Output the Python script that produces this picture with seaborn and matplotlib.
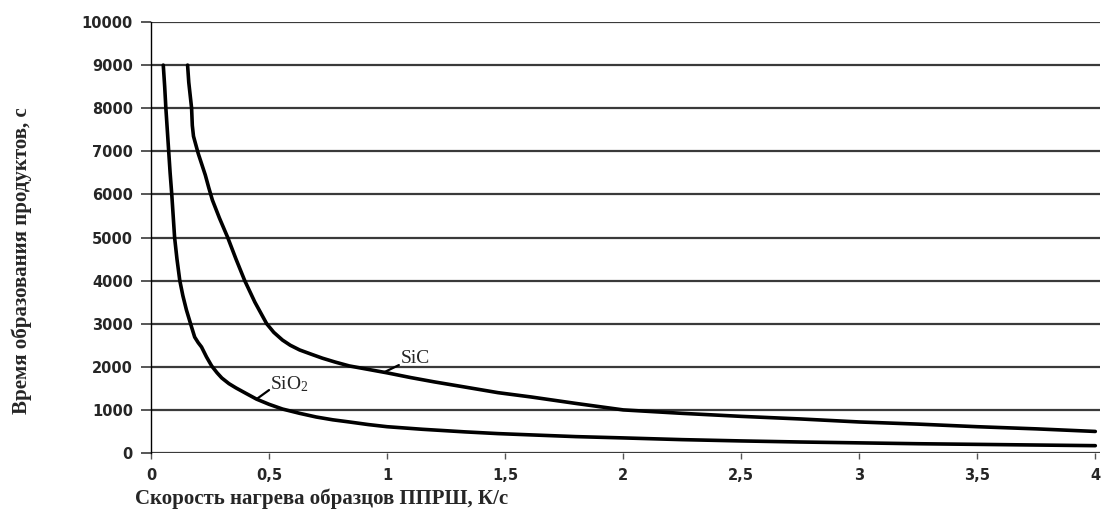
import numpy as np
import pandas as pd
import matplotlib
matplotlib.use("Agg")
import matplotlib.pyplot as plt
import seaborn as sns

# значения
sio2_x = [0.052, 0.058, 0.063, 0.069, 0.075, 0.081, 0.088, 0.10, 0.11, 0.122, 0.135,
          0.15, 0.172, 0.185, 0.20, 0.214, 0.235, 0.257, 0.28, 0.30, 0.33, 0.36, 0.40,
          0.447, 0.50, 0.557, 0.63, 0.70, 0.77, 0.84, 0.92, 1.0, 1.15, 1.33, 1.47,
          1.61, 1.8, 2.0, 2.25, 2.5, 2.75, 3.0, 3.25, 3.5, 3.75, 4.0]
sio2_y = [9000, 8500, 8000, 7500, 7000, 6500, 6000, 5000, 4500, 4000, 3650,
          3320, 2920, 2690, 2560, 2460, 2230, 2020, 1860, 1740, 1610, 1510, 1390,
          1250, 1130, 1020, 920, 835, 770, 720, 660, 610, 550, 490, 450,
          420, 380, 350, 310, 280, 255, 235, 215, 200, 185, 170]

sic_x = [0.155, 0.16, 0.166, 0.172, 0.175, 0.18, 0.19, 0.2, 0.215, 0.23, 0.245, 0.26,
         0.29, 0.325, 0.36, 0.397, 0.44, 0.49, 0.52, 0.557, 0.59, 0.63, 0.68, 0.726,
         0.78, 0.84, 0.92, 1.0, 1.1, 1.2, 1.33, 1.47, 1.61, 1.8, 2.0, 2.25, 2.5,
         2.75, 3.0, 3.25, 3.5, 3.75, 4.0]
sic_y = [9000, 8600, 8300, 8000, 7600, 7350, 7150, 6950, 6700, 6450, 6150, 5870,
         5450, 5000, 4500, 4000, 3500, 3000, 2800, 2620, 2500, 2390, 2290, 2200,
         2110, 2020, 1940, 1860, 1750, 1650, 1530, 1400, 1300, 1150, 1000, 920, 850,
         790, 720, 670, 610, 560, 500]

x_ticks = [0, 0.5, 1, 1.5, 2, 2.5, 3, 3.5, 4]
x_tick_labels = ["0", "0,5", "1", "1,5", "2", "2,5", "3", "3,5", "4"]
y_ticks = list(range(0, 10001, 1000))

df = pd.concat([
    pd.DataFrame({"x": sio2_x, "y": sio2_y, "s": "SiO2"}),
    pd.DataFrame({"x": sic_x, "y": sic_y, "s": "SiC"}),
])

sns.set_style("white")
plt.rcParams["font.family"] = ["DejaVu Sans"]
plt.rcParams["mathtext.fontset"] = "custom"
plt.rcParams["mathtext.rm"] = "Liberation Serif"
plt.rcParams["mathtext.it"] = "Liberation Serif:italic"

fig = plt.figure(figsize=(11.07, 5.17), dpi=100)
ax = fig.add_axes([0.1364, 0.1238, 0.8573, 0.8336])

# горизонтальная сетка
for yv in y_ticks:
    ax.axhline(yv, color="#3a3a3a", lw=1.6, zorder=1)

sns.lineplot(data=df, x="x", y="y", hue="s", units="s", estimator=None, sort=False,
             palette={"SiO2": "black", "SiC": "black"}, lw=2.6, legend=False,
             ax=ax, zorder=3)

ax.set_xlim(0, 4.02)
ax.set_ylim(0, 10000)
ax.set_xticks(x_ticks)
ax.set_xticklabels(x_tick_labels)
ax.set_yticks(y_ticks)
ax.set_yticklabels([str(v) for v in y_ticks])

for sp in ["top", "right", "bottom"]:
    ax.spines[sp].set_visible(False)
ax.spines["left"].set_color("black")
ax.spines["left"].set_linewidth(1.0)

ax.tick_params(axis="y", left=True, length=7, width=1.2, color="#3a3a3a",
               pad=6, labelsize=10.5)
ax.tick_params(axis="x", bottom=True, length=4, width=1.0, color="#555555",
               pad=7, labelsize=10.5)
for lab in ax.get_xticklabels() + ax.get_yticklabels():
    lab.set_fontweight("bold")

serif = ["Liberation Serif", "DejaVu Serif"]
ax.set_xlabel("")
ax.set_ylabel("")
fig.text(0.122, 0.035, "Скорость нагрева образцов ППРШ, К/с", family=serif,
         fontsize=15, fontweight="bold", ha="left", va="center")
fig.text(0.02, 0.495, "Время образования продуктов, с", family=serif,
         fontsize=15, fontweight="bold", rotation=90, ha="center", va="center")

# подписи кривых
ax.plot([0.99, 1.05], [1880, 2040], color="black", lw=1.6, zorder=4)
ax.text(1.12, 2200, "SiC", family=serif, fontsize=14, ha="center", va="center",
        zorder=4)
ax.plot([0.447, 0.50], [1250, 1460], color="black", lw=1.6, zorder=4)
ax.text(0.585, 1600, "SiO$_2$", family=serif, fontsize=14, ha="center", va="center",
        zorder=4)

fig.savefig("out.png", dpi=100)
